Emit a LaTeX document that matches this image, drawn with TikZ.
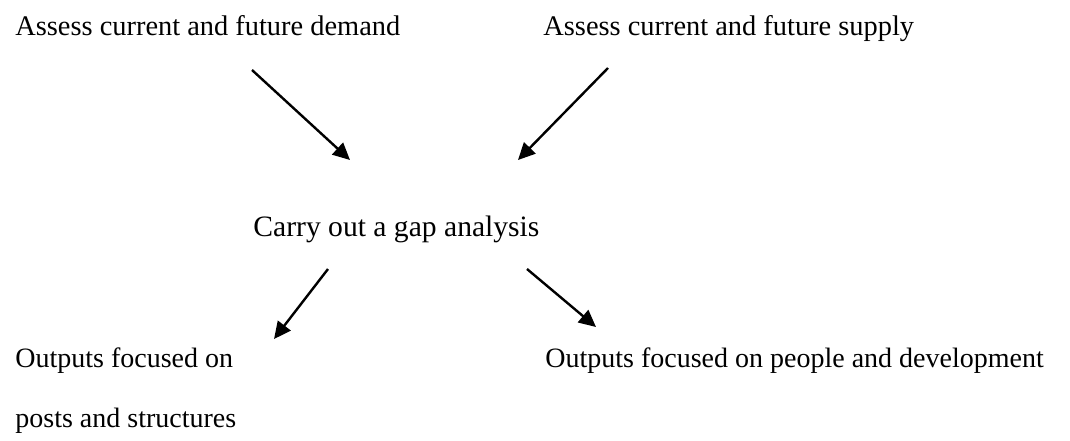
\documentclass[tikz,border=0pt]{standalone}
\usepackage{fontspec}
\setmainfont{Liberation Serif}
\usetikzlibrary{arrows.meta}
\begin{document}
\begin{tikzpicture}[x=0.5pt,y=-0.5pt,
  label text/.style={anchor=base west,inner sep=0pt,font=\fontsize{14.2}{16}\selectfont},
  flow/.style={line width=1.2pt,-{Triangle[length=8.5pt,width=8pt]}}]
  \useasboundingbox (0,0) rectangle (1070,440);
  % the four statements and the gap analysis
  \node[label text] (demand) at (15,35) {Assess current and future demand};
  \node[label text] (supply) at (543,35) {Assess current and future supply};
  \node[label text,font=\fontsize{14.8}{16}\selectfont] (gap) at (253,236) {Carry out a gap analysis};
  \node[label text,font=\fontsize{14}{16}\selectfont] (posts) at (15,367) {Outputs focused on};
  \node[label text,font=\fontsize{14}{16}\selectfont] (posts2) at (15,427) {posts and structures};
  \node[label text,font=\fontsize{14}{16}\selectfont] (people) at (545,367) {Outputs focused on people and development};
  % arrow ends
  \coordinate (d0) at (252,70);  \coordinate (d1) at (350,160);
  \coordinate (s0) at (608,68);  \coordinate (s1) at (518,160);
  \coordinate (g0) at (328,269); \coordinate (g1) at (274,339);
  \coordinate (h0) at (527,269); \coordinate (h1) at (596,327);
  \draw[flow] (d0) -- (d1);
  \draw[flow] (s0) -- (s1);
  \draw[flow] (g0) -- (g1);
  \draw[flow] (h0) -- (h1);
\end{tikzpicture}
\end{document}
